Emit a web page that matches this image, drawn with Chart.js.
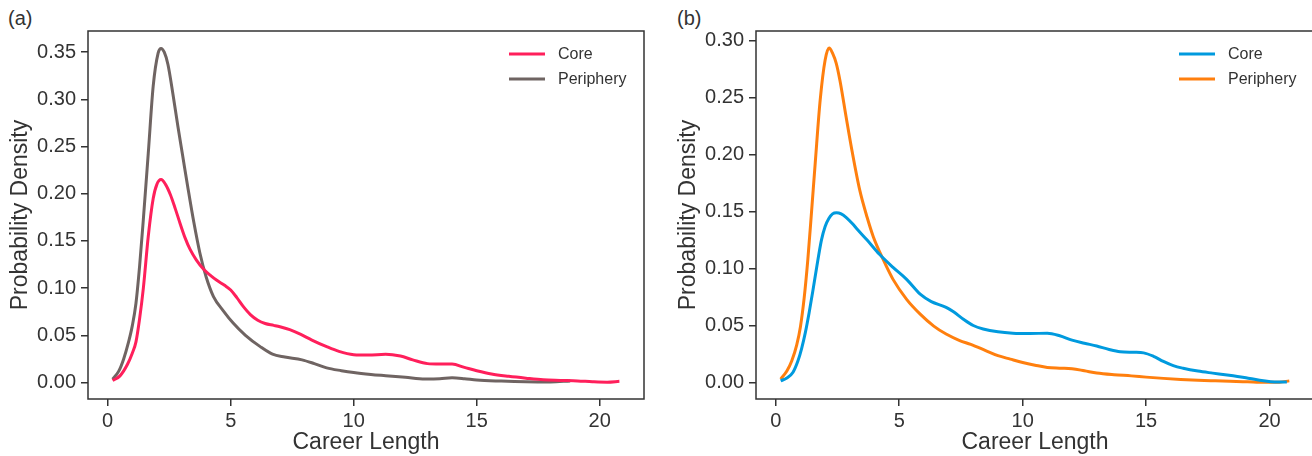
<!DOCTYPE html>
<html>
<head>
<meta charset="utf-8">
<script src="https://cdn.jsdelivr.net/npm/chart.js@4"></script>
<style>
  html, body { margin: 0; padding: 0; background: #fff; }
  body { width: 1312px; height: 456px; overflow: hidden; position: relative; font-family: "Liberation Sans", Arial, sans-serif; }
  canvas { position: absolute; top: 0; }
  #chart-a { left: 0; }
  #chart-b { left: 668px; }
  .panel-tag { position: absolute; top: 6px; font-size: 20px; line-height: 24px; color: #333; }
</style>
</head>
<body>
<span class="panel-tag" style="left:8px">(a)</span>
<span class="panel-tag" style="left:677px">(b)</span>
<canvas id="chart-a" width="656" height="456"></canvas>
<canvas id="chart-b" width="656" height="456"></canvas>
<script>
// tick values
const careerTicks = [0, 5, 10, 15, 20];
const densityTicksA = [0, 0.05, 0.1, 0.15, 0.2, 0.25, 0.3, 0.35];
const densityTicksB = [0, 0.05, 0.1, 0.15, 0.2, 0.25, 0.3];

// (a) core
const coreXA = [0.2, 0.5, 0.8, 1.0, 1.15, 1.3, 1.45, 1.65, 1.85, 2.0, 2.17, 2.35, 2.55, 2.75, 2.95, 3.15, 3.35, 3.6, 3.9, 4.2, 4.45, 4.75, 5.0, 5.25, 5.5, 5.8, 6.1, 6.4, 6.75, 7.0, 7.4, 7.85, 8.3, 8.9, 9.4, 10.0, 10.6, 11.3, 11.9, 12.4, 13.0, 13.5, 14.0, 14.5, 15.0, 15.6, 16.3, 17.0, 17.7, 18.4, 19.1, 19.7, 20.3, 20.8];
const coreYA = [0.002, 0.007, 0.019, 0.031, 0.043, 0.068, 0.1, 0.155, 0.195, 0.21, 0.215, 0.21, 0.199, 0.184, 0.168, 0.153, 0.141, 0.13, 0.12, 0.113, 0.108, 0.103, 0.098, 0.09, 0.081, 0.072, 0.066, 0.0625, 0.0605, 0.059, 0.056, 0.051, 0.045, 0.038, 0.033, 0.0295, 0.029, 0.03, 0.028, 0.024, 0.02, 0.0195, 0.0195, 0.016, 0.0125, 0.009, 0.0065, 0.0045, 0.0028, 0.0022, 0.0017, 0.0008, 0.0003, 0.0012];

// (a) periphery
const periXA = [0.2, 0.45, 0.65, 0.85, 1.0, 1.15, 1.3, 1.45, 1.65, 1.85, 2.05, 2.17, 2.3, 2.45, 2.65, 2.85, 3.05, 3.25, 3.5, 3.75, 4.0, 4.3, 4.7, 5.1, 5.6, 6.2, 6.7, 7.2, 7.9, 8.4, 8.9, 9.5, 10.0, 10.7, 11.3, 12.1, 12.9, 13.5, 14.0, 14.5, 15.0, 16.0, 17.0, 18.0, 18.8];
const periYA = [0.0035, 0.012, 0.025, 0.043, 0.06, 0.084, 0.124, 0.173, 0.243, 0.314, 0.349, 0.354, 0.35, 0.337, 0.306, 0.272, 0.24, 0.208, 0.17, 0.137, 0.112, 0.091, 0.076, 0.063, 0.05, 0.038, 0.03, 0.027, 0.024, 0.02, 0.0155, 0.0125, 0.0105, 0.0085, 0.0072, 0.0055, 0.0038, 0.004, 0.0049, 0.004, 0.0026, 0.0015, 0.0008, 0.0006, 0.0017];

// (b) core
const coreXB = [0.2, 0.45, 0.7, 0.9, 1.05, 1.2, 1.35, 1.5, 1.65, 1.85, 2.0, 2.15, 2.3, 2.46, 2.65, 2.87, 3.1, 3.3, 3.7, 4.2, 4.75, 5.3, 5.85, 6.3, 6.9, 7.2, 7.6, 8.0, 8.4, 9.0, 9.6, 10.3, 11.0, 11.5, 12.0, 12.5, 13.0, 13.5, 13.95, 14.5, 14.9, 15.3, 15.7, 16.1, 16.5, 17.1, 17.7, 18.2, 18.7, 19.2, 19.75, 20.2, 20.7];
const coreYB = [0.0014, 0.004, 0.009, 0.019, 0.03, 0.044, 0.061, 0.08, 0.1, 0.125, 0.137, 0.144, 0.148, 0.149, 0.148, 0.1445, 0.1395, 0.1345, 0.125, 0.1125, 0.101, 0.0905, 0.0775, 0.071, 0.066, 0.062, 0.0555, 0.05, 0.047, 0.0445, 0.0433, 0.043, 0.0432, 0.041, 0.0372, 0.0345, 0.032, 0.029, 0.027, 0.0265, 0.026, 0.023, 0.0185, 0.0148, 0.0125, 0.01, 0.0082, 0.0068, 0.0053, 0.0035, 0.0015, 0.0005, 0.0005];

// (b) periphery
const periXB = [0.2, 0.45, 0.65, 0.85, 1.0, 1.15, 1.3, 1.45, 1.6, 1.8, 2.0, 2.16, 2.3, 2.45, 2.6, 2.85, 3.1, 3.4, 3.7, 3.95, 4.35, 4.75, 5.3, 5.85, 6.4, 6.9, 7.45, 7.9, 8.5, 9.0, 9.5, 10.0, 10.5, 11.0, 11.5, 12.0, 12.5, 13.0, 13.7, 14.4, 15.0, 15.7, 16.4, 17.1, 17.8, 18.4, 19.1, 19.8, 20.4, 20.8];
const periYB = [0.003, 0.01, 0.019, 0.033, 0.049, 0.074, 0.108, 0.15, 0.193, 0.248, 0.283, 0.2935, 0.289, 0.28, 0.265, 0.233, 0.202, 0.169, 0.145, 0.128, 0.108, 0.0905, 0.073, 0.06, 0.0495, 0.0425, 0.0368, 0.0334, 0.028, 0.0235, 0.0205, 0.0176, 0.0152, 0.0131, 0.0125, 0.0121, 0.0103, 0.0083, 0.0068, 0.0058, 0.0047, 0.0036, 0.0027, 0.002, 0.0015, 0.0011, 0.0006, 0.0001, 0.0003, 0.0014];

const INK = '#333333';
const FONT = '"Liberation Sans", Arial, sans-serif';

function toPoints(xs, ys) {
  return xs.map((x, i) => ({ x, y: ys[i] }));
}

// box around the plot area
const framePlugin = {
  id: 'frame',
  afterDraw(chart) {
    const { ctx, chartArea: a } = chart;
    ctx.save();
    ctx.strokeStyle = INK;
    ctx.lineWidth = 1.5;
    ctx.strokeRect(a.left, a.top, a.right - a.left, a.bottom - a.top);
    ctx.restore();
  },
};

// matplotlib-style legend in the upper right corner
const lineLegendPlugin = {
  id: 'lineLegend',
  afterDraw(chart) {
    const { ctx, chartArea: a } = chart;
    const x0 = a.right - 135;
    ctx.save();
    ctx.font = '16px ' + FONT;
    ctx.textBaseline = 'middle';
    chart.data.datasets.forEach((ds, i) => {
      const y = a.top + 23 + i * 25;
      ctx.strokeStyle = ds.borderColor;
      ctx.lineWidth = 3;
      ctx.beginPath();
      ctx.moveTo(x0, y);
      ctx.lineTo(x0 + 36, y);
      ctx.stroke();
      ctx.fillStyle = INK;
      ctx.fillText(ds.label, x0 + 49, y + 1);
    });
    ctx.restore();
  },
};

function buildChart(id, datasets, yTicks, yMin, yMax, padRight) {
  return new Chart(document.getElementById(id), {
    type: 'line',
    data: { datasets },
    options: {
      responsive: false,
      animation: false,
      layout: { padding: { top: 31, right: padRight, left: 0, bottom: 0 } },
      plugins: { legend: { display: false }, tooltip: { enabled: false } },
      elements: {
        point: { radius: 0 },
        line: { borderWidth: 3, cubicInterpolationMode: 'monotone' },
      },
      scales: {
        x: {
          type: 'linear',
          min: -0.8,
          max: 21.8,
          afterBuildTicks: (s) => { s.ticks = careerTicks.map((v) => ({ value: v })); },
          afterFit: (s) => { s.height = 57; },
          ticks: { font: { family: FONT, size: 20 }, color: INK, padding: 3, maxRotation: 0, callback: (v) => String(v) },
          grid: { drawOnChartArea: false, tickLength: 7, color: INK, lineWidth: 1.5 },
          border: { display: false },
          title: { display: true, text: 'Career Length', font: { family: FONT, size: 23 }, color: INK, padding: { top: 0, bottom: 0 } },
        },
        y: {
          type: 'linear',
          min: yMin,
          max: yMax,
          afterBuildTicks: (s) => { s.ticks = yTicks.map((v) => ({ value: v })); },
          afterFit: (s) => { s.width = 88; },
          ticks: { font: { family: FONT, size: 20 }, color: INK, padding: 5, callback: (v) => v.toFixed(2) },
          grid: { drawOnChartArea: false, tickLength: 7, color: INK, lineWidth: 1.5 },
          border: { display: false },
          title: { display: true, text: 'Probability Density', font: { family: FONT, size: 23 }, color: INK, padding: { top: 7, bottom: 0 } },
        },
      },
    },
    plugins: [framePlugin, lineLegendPlugin],
  });
}

buildChart('chart-a', [
  { label: 'Core', data: toPoints(coreXA, coreYA), borderColor: '#ff1f5b' },
  { label: 'Periphery', data: toPoints(periXA, periYA), borderColor: '#6f6462' },
], densityTicksA, -0.0175, 0.3725, 12);

buildChart('chart-b', [
  { label: 'Core', data: toPoints(coreXB, coreYB), borderColor: '#009ade' },
  { label: 'Periphery', data: toPoints(periXB, periYB), borderColor: '#ff7f0e' },
], densityTicksB, -0.0145, 0.3085, 10);
</script>
</body>
</html>
